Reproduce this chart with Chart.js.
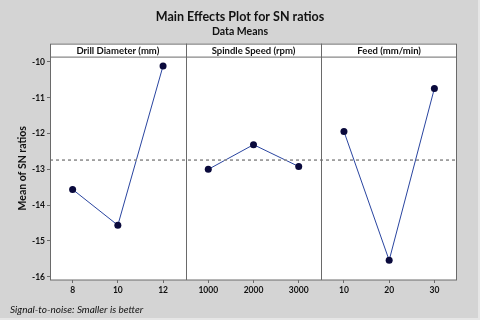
<!DOCTYPE html>
<html>
<head>
<meta charset="utf-8">
<script src="https://cdn.jsdelivr.net/npm/chart.js@4"></script>
<style>
html,body{margin:0;padding:0;background:#d4d4d4;}
#wrap{position:relative;width:480px;height:320px;}
canvas{display:block;}
</style>
</head>
<body>
<div id="wrap"><canvas id="c" width="480" height="320"></canvas></div>
<script>
// ---- data ----
const panelTitles = ["Drill Diameter (mm)", "Spindle Speed (rpm)", "Feed (mm/min)"];
const drillLevels = ["8", "10", "12"];
const spindleLevels = ["1000", "2000", "3000"];
const feedLevels = ["10", "20", "30"];
const drillSN = [-13.56, -14.56, -10.11];
const spindleSN = [-13.00, -12.31, -12.92];
const feedSN = [-11.94, -15.54, -10.74];
const overallMean = -12.74;
const yTicks = [-16, -15, -14, -13, -12, -11, -10];
const chartTitle = "Main Effects Plot for SN ratios";
const chartSubtitle = "Data Means";
const yTitle = "Mean of SN ratios";
const footnote = "Signal-to-noise: Smaller is better";

const levelSets = [drillLevels, spindleLevels, feedLevels];
const valueSets = [drillSN, spindleSN, feedSN];
const FONT = "Lato, 'Open Sans', sans-serif";

const xLabels = [];
const xTickVals = [];
levelSets.forEach((lv, p) => lv.forEach((l, i) => { xLabels.push(l); xTickVals.push(p * 3 + i + 0.5); }));

const lineColor = "#2a45a0";
const pointColor = "#0a0a3c";
const datasets = valueSets.map((vals, p) => ({
  data: vals.map((v, i) => ({ x: p * 3 + i + 0.5, y: v })),
  borderColor: lineColor,
  borderWidth: 1,
  pointRadius: 3.5,
  pointBackgroundColor: pointColor,
  pointBorderColor: pointColor,
  pointBorderWidth: 0,
  tension: 0,
  fill: false
}));
datasets.unshift({
  data: [{ x: 0, y: overallMean }, { x: 9, y: overallMean }],
  borderColor: "#8a8a8a",
  borderWidth: 1.5,
  borderDash: [3, 3],
  pointRadius: 0,
  fill: false
});

const framePlugin = {
  id: "frame",
  beforeDraw(chart) {
    const { ctx, chartArea: a } = chart;
    ctx.save();
    ctx.fillStyle = "#d4d4d4";
    ctx.fillRect(0, 0, chart.width, chart.height);
    ctx.fillStyle = "#e6e6e6";
    ctx.fillRect(chart.width - 2, 0, 2, chart.height);
    ctx.fillRect(0, chart.height - 2, chart.width, 2);
    ctx.fillStyle = "#ffffff";
    ctx.fillRect(a.left, a.top - 13, a.right - a.left, a.bottom - a.top + 13);
    ctx.restore();
  },
  afterDraw(chart) {
    const { ctx, chartArea: a, scales } = chart;
    const top = a.top - 13;
    ctx.save();
    ctx.strokeStyle = "#6a6a6a";
    ctx.lineWidth = 1;
    ctx.strokeRect(a.left + 0.5, top + 0.5, a.right - a.left - 1, a.bottom - top - 0.5);
    ctx.beginPath();
    ctx.moveTo(a.left, a.top + 0.5); ctx.lineTo(a.right, a.top + 0.5);
    [3, 6].forEach(v => {
      const x = Math.round(scales.x.getPixelForValue(v)) + 0.5;
      ctx.moveTo(x, top); ctx.lineTo(x, a.bottom);
    });
    ctx.stroke();
    ctx.fillStyle = "#111";
    ctx.font = "bold 9.5px " + FONT;
    ctx.textAlign = "center";
    ctx.textBaseline = "middle";
    panelTitles.forEach((t, p) => {
      const x = (scales.x.getPixelForValue(p * 3) + scales.x.getPixelForValue(p * 3 + 3)) / 2;
      ctx.fillText(t, x, top + 7);
    });
    ctx.font = "italic 10px " + FONT;
    ctx.textAlign = "left";
    ctx.fillText(footnote, 10, 310);
    ctx.restore();
  }
};

new Chart(document.getElementById("c"), {
  type: "line",
  data: { datasets },
  options: {
    responsive: false,
    animation: false,
    devicePixelRatio: 1,
    layout: { padding: { left: 0, right: 0, top: 0, bottom: 0 } },
    plugins: {
      legend: { display: false },
      tooltip: { enabled: false },
      title: {
        display: true, text: chartTitle, color: "#111",
        font: { family: FONT, size: 12.5, weight: "bold", lineHeight: 1.2 },
        padding: { top: 9, bottom: 0 }
      },
      subtitle: {
        display: true, text: chartSubtitle, color: "#111",
        font: { family: FONT, size: 10.5, weight: "bold", lineHeight: 1.2 },
        padding: { top: 1, bottom: 19 }
      }
    },
    scales: {
      x: {
        type: "linear", min: 0, max: 9,
        afterBuildTicks: s => { s.ticks = xTickVals.map(v => ({ value: v })); },
        afterFit: s => { s.height = 40; },
        ticks: {
          autoSkip: false, maxRotation: 0, padding: 2, color: "#111",
          font: { family: FONT, size: 8.5, weight: "bold" },
          callback: (v) => { const i = xTickVals.indexOf(v); return i >= 0 ? xLabels[i] : ""; }
        },
        grid: { drawOnChartArea: false, drawTicks: true, tickLength: 3, color: "#6a6a6a" },
        border: { display: false }
      },
      y: {
        type: "linear", min: -16.09, max: -9.85,
        afterBuildTicks: s => { s.ticks = yTicks.map(v => ({ value: v })); },
        afterFit: s => { s.width = 50; },
        ticks: {
          padding: 2, color: "#111",
          font: { family: FONT, size: 8.5, weight: "bold" }
        },
        grid: { drawOnChartArea: false, drawTicks: true, tickLength: 3, color: "#6a6a6a" },
        border: { display: false },
        title: {
          display: true, text: yTitle, color: "#111",
          font: { family: FONT, size: 10.5, weight: "bold" },
          padding: { top: 16, bottom: 0 }
        }
      },
      yRight: {
        type: "linear", position: "right", min: 0, max: 1,
        afterFit: s => { s.width = 23; },
        ticks: { display: false },
        grid: { display: false },
        border: { display: false }
      }
    }
  },
  plugins: [framePlugin]
});
</script>
</body>
</html>
